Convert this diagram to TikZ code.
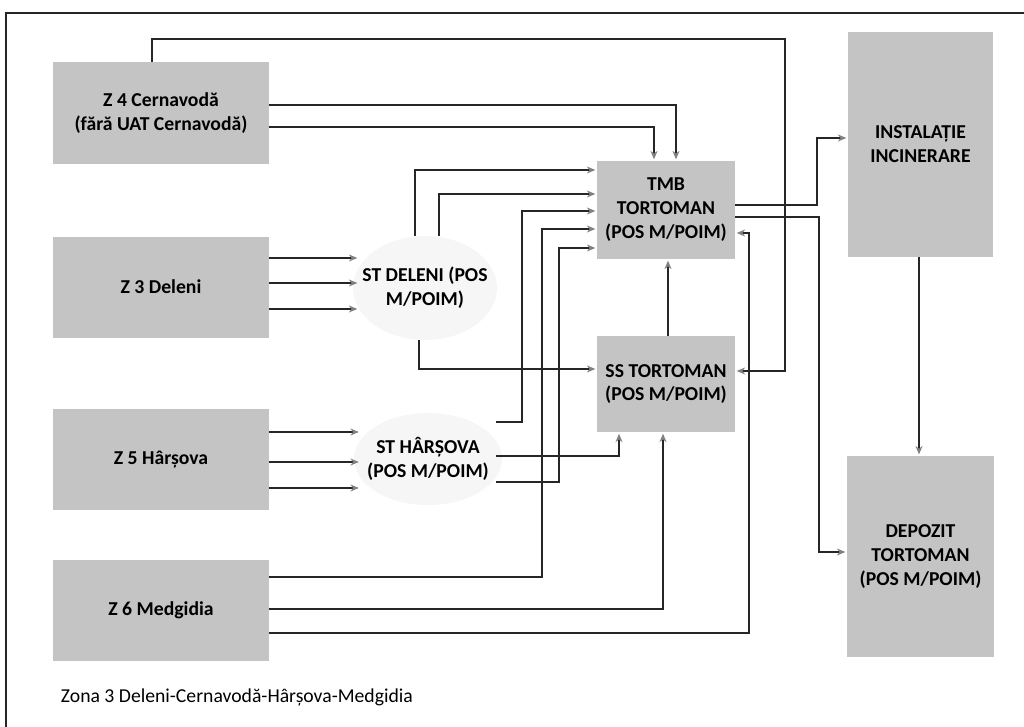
\documentclass[tikz,border=0pt]{standalone}
\usepackage{fontspec}
\setmainfont{Carlito}
\usetikzlibrary{positioning,arrows.meta,backgrounds}
\definecolor{zonegray}{gray}{0.77}
\definecolor{linegray}{gray}{0.15}
\definecolor{cloudgray}{gray}{0.965}
\begin{document}
\begin{tikzpicture}[x=0.025cm,y=-0.025cm,
  zone/.style={fill=zonegray,align=center,font=\fontsize{14}{17}\selectfont\bfseries,minimum width=5.375cm,minimum height=2.525cm},
  plant/.style={zone,minimum width=3.45cm,minimum height=2.45cm},
  station/.style={align=center,font=\fontsize{14}{17}\selectfont\bfseries,inner sep=0pt,minimum width=3.3cm,minimum height=2.6cm},
  link/.style={draw=linegray,line width=0.8pt,-{Stealth[length=6pt,width=5pt,color=gray]},shorten >=1pt}]
\useasboundingbox (0,0) rectangle (1024,727);
\draw[linegray,line width=0.8pt] (6,727) -- (6,13) -- (1024,13);

\node[zone] (z4) at (161,113) {Z 4 Cernavodă\\(fără UAT Cernavodă)};
\node[zone] (z3) [below of=z4,node distance=4.35cm] {Z 3 Deleni};
\node[zone] (z5) [below of=z3,node distance=4.3cm] {Z 5 Hârșova};
\node[zone] (z6) [below of=z5,node distance=3.775cm] {Z 6 Medgidia};

\node[station] (stdel) at (425,288) {ST DELENI (POS\\M/POIM)};
\node[station,minimum width=3.375cm,minimum height=2.25cm] (stha) at (428,459) {ST HÂRȘOVA\\(POS M/POIM)};

\node[plant] (tmb) at (666,210) {TMB\\TORTOMAN\\(POS M/POIM)};
\node[plant,minimum height=2.4cm] (ss) [below of=tmb,node distance=4.35cm] {SS TORTOMAN\\(POS M/POIM)};

\node[zone,minimum width=3.625cm,minimum height=5.625cm] (inst) at (920.5,144.5) {INSTALAȚIE\\INCINERARE};
\node[zone,minimum width=3.675cm,minimum height=5.025cm] (dep) [below of=inst,node distance=10.3cm] {DEPOZIT\\TORTOMAN\\(POS M/POIM)};

\node[anchor=west,font=\fontsize{14}{17}\selectfont] (caption) at (56,697) {Zona 3 Deleni-Cernavodă-Hârșova-Medgidia};

\begin{scope}[on background layer]
\fill[cloudgray] (stdel.center) ellipse (72 and 52);
\fill[cloudgray] (stha.center) ellipse (74 and 46);
\end{scope}

% zone 4
\draw[link] (z4.north -| 152,0) |- (785,39) |- (ss.east |- 0,371);
\draw[link] (z4.east |- 0,105) -| (tmb.north -| 676,0);
\draw[link] (z4.east |- 0,127) -| (tmb.north -| 654,0);

% zone 3
\draw[link] (z3.east |- 0,258) -- (stdel.west |- 0,258);
\draw[link] (z3.east |- 0,283) -- (stdel.west |- 0,283);
\draw[link] (z3.east |- 0,309) -- (stdel.west |- 0,309);

% ST Deleni
\draw[link] (stdel.north -| 415,0) |- (tmb.west |- 0,170);
\draw[link] (stdel.north -| 439,0) |- (tmb.west |- 0,194);
\draw[link] (stdel.south -| 419,0) |- (ss.west |- 0,369);

% zone 5
\draw[link] (z5.east |- 0,432) -- (stha.west |- 0,432);
\draw[link] (z5.east |- 0,462) -- (stha.west |- 0,462);
\draw[link] (z5.east |- 0,488) -- (stha.west |- 0,488);

% ST Harsova
\draw[link] (stha.east |- 0,422) -| (522,211) -- (tmb.west |- 0,211);
\draw[link] (stha.east |- 0,456) -| (ss.south -| 619,0);
\draw[link] (stha.east |- 0,482) -| (559,248) -- (tmb.west |- 0,248);

% zone 6
\draw[link] (z6.east |- 0,577) -| (542,229) -- (tmb.west |- 0,229);
\draw[link] (z6.east |- 0,609) -| (ss.south -| 663,0);
\draw[link] (z6.east |- 0,633) -| (749,233) -- (tmb.east |- 0,233);

% Tortoman
\draw[link] (ss.north -| 668,0) -- (tmb.south -| 668,0);
\draw[link] (tmb.east |- 0,205) -| (817,138) -- (inst.west |- 0,138);
\draw[link] (tmb.east |- 0,217) -| (819,552) -- (dep.west |- 0,552);
\draw[link] (inst.south -| 919,0) -- (dep.north -| 919,0);
\end{tikzpicture}
\end{document}
